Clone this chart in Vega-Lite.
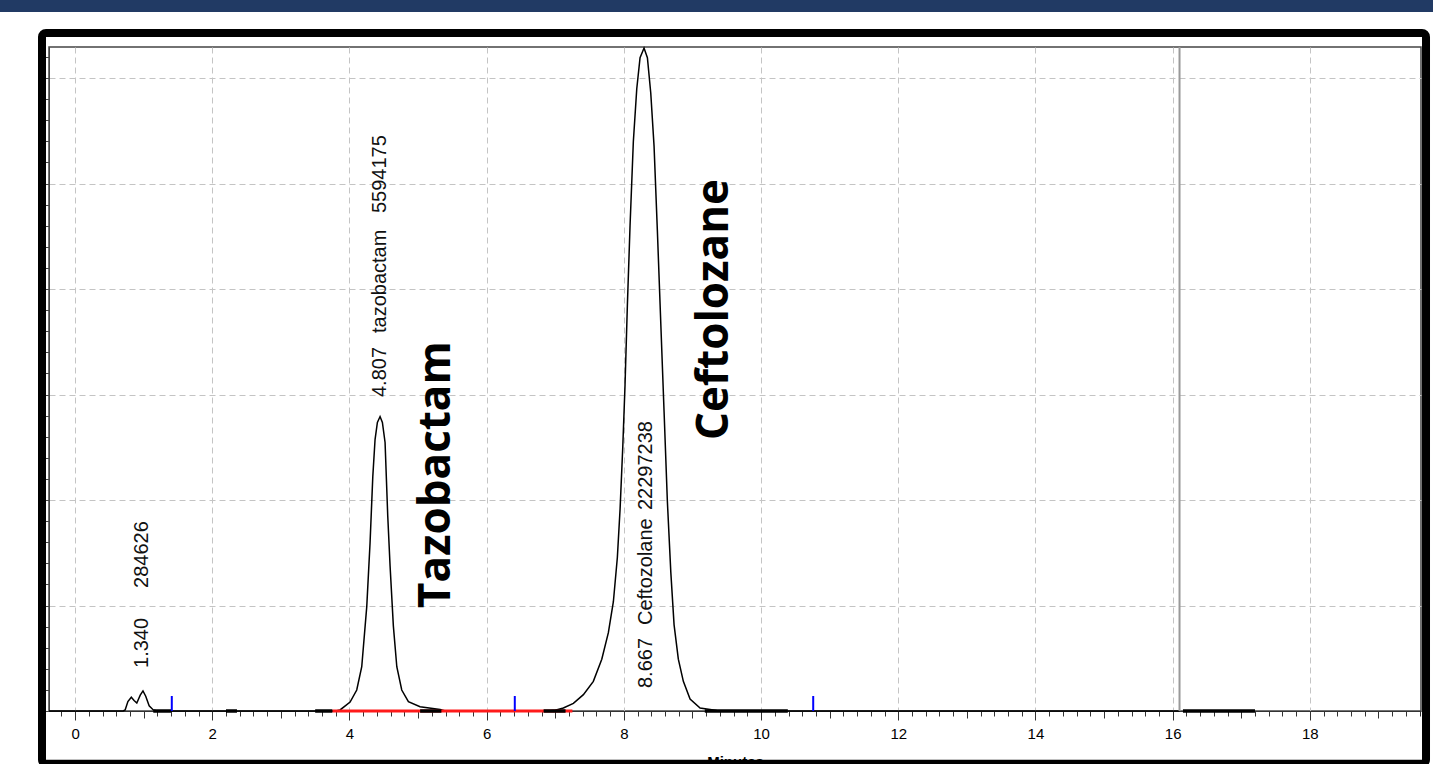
{
  "$schema": "https://vega.github.io/schema/vega-lite/v6.json",
  "width": 1372,
  "height": 664,
  "autosize": {"type": "none"},
  "padding": {"left": 49, "top": 47, "right": 12, "bottom": 53},
  "background": "white",
  "config": {"view": {"stroke": "#444444", "strokeWidth": 1.5}},
  "resolve": {"axis": {"x": "independent", "y": "independent"}},
  "datasets": {
    "signal": [
      {"t": -0.38, "v": 0}, {"t": 0.70, "v": 0}, {"t": 0.73, "v": 0.01}, {"t": 0.77, "v": 0.09},
      {"t": 0.82, "v": 0.13}, {"t": 0.86, "v": 0.10}, {"t": 0.90, "v": 0.076}, {"t": 0.95, "v": 0.15},
      {"t": 0.99, "v": 0.19}, {"t": 1.03, "v": 0.14}, {"t": 1.08, "v": 0.05}, {"t": 1.14, "v": 0.01},
      {"t": 1.20, "v": 0}, {"t": 3.80, "v": 0}, {"t": 3.863, "v": 0.01}, {"t": 4.009, "v": 0.085},
      {"t": 4.106, "v": 0.199}, {"t": 4.179, "v": 0.42}, {"t": 4.252, "v": 0.989}, {"t": 4.300, "v": 1.592},
      {"t": 4.340, "v": 2.221}, {"t": 4.373, "v": 2.573}, {"t": 4.407, "v": 2.735}, {"t": 4.446, "v": 2.791},
      {"t": 4.480, "v": 2.735}, {"t": 4.519, "v": 2.545}, {"t": 4.558, "v": 1.848}, {"t": 4.592, "v": 1.374},
      {"t": 4.640, "v": 0.805}, {"t": 4.690, "v": 0.42}, {"t": 4.762, "v": 0.199}, {"t": 4.859, "v": 0.088},
      {"t": 5.029, "v": 0.04}, {"t": 5.321, "v": 0.014}, {"t": 5.40, "v": 0}, {"t": 6.90, "v": 0},
      {"t": 7.00, "v": 0.008}, {"t": 7.118, "v": 0.028}, {"t": 7.264, "v": 0.072}, {"t": 7.410, "v": 0.155},
      {"t": 7.555, "v": 0.281}, {"t": 7.678, "v": 0.491}, {"t": 7.774, "v": 0.742}, {"t": 7.847, "v": 1.036},
      {"t": 7.905, "v": 1.455}, {"t": 7.945, "v": 1.917}, {"t": 7.984, "v": 2.503}, {"t": 8.017, "v": 3.09},
      {"t": 8.051, "v": 3.844}, {"t": 8.090, "v": 4.599}, {"t": 8.138, "v": 5.396}, {"t": 8.188, "v": 5.898},
      {"t": 8.236, "v": 6.192}, {"t": 8.294, "v": 6.284}, {"t": 8.343, "v": 6.192}, {"t": 8.392, "v": 5.858},
      {"t": 8.440, "v": 5.355}, {"t": 8.488, "v": 4.559}, {"t": 8.538, "v": 3.678}, {"t": 8.586, "v": 2.839},
      {"t": 8.634, "v": 1.99}, {"t": 8.684, "v": 1.319}, {"t": 8.732, "v": 0.817}, {"t": 8.794, "v": 0.491},
      {"t": 8.867, "v": 0.281}, {"t": 8.965, "v": 0.114}, {"t": 9.111, "v": 0.028}, {"t": 9.354, "v": 0.005},
      {"t": 9.50, "v": 0}, {"t": 16.10, "v": 0}
    ],
    "red": [{"t": 3.75}, {"t": 7.25}],
    "segs": [
      {"seg": "a", "t": 1.14}, {"seg": "a", "t": 1.40},
      {"seg": "b", "t": 2.20}, {"seg": "b", "t": 2.36},
      {"seg": "c", "t": 3.50}, {"seg": "c", "t": 3.75},
      {"seg": "d", "t": 5.03}, {"seg": "d", "t": 5.34},
      {"seg": "e", "t": 6.83}, {"seg": "e", "t": 7.15},
      {"seg": "f", "t": 9.18}, {"seg": "f", "t": 10.39},
      {"seg": "g", "t": 16.15}, {"seg": "g", "t": 17.20}
    ],
    "blue": [{"t": 1.41}, {"t": 6.41}, {"t": 10.76}],
    "stop": [{"t": 16.1}],
    "notes": [
      {"t": 1.063, "v": 0.408, "label": "1.340"},
      {"t": 1.063, "v": 1.166, "label": "284626"},
      {"t": 4.532, "v": 2.976, "label": "4.807"},
      {"t": 4.532, "v": 3.583, "label": "tazobactam"},
      {"t": 4.532, "v": 4.72, "label": "5594175"},
      {"t": 8.406, "v": 0.218, "label": "8.667"},
      {"t": 8.406, "v": 0.815, "label": "Ceftozolane"},
      {"t": 8.406, "v": 1.905, "label": "22297238"}
    ],
    "names": [
      {"t": 5.466, "v": 0.976, "label": "Tazobactam"},
      {"t": 9.518, "v": 2.569, "label": "Ceftolozane"}
    ]
  },
  "layer": [
    {
      "data": {"name": "signal"},
      "mark": {"type": "line", "color": "#000000", "strokeWidth": 1.5},
      "encoding": {
        "x": {
          "field": "t", "type": "quantitative",
          "scale": {"domain": [-0.38, 19.62], "nice": false, "zero": false},
          "axis": {
            "values": [-0.2,0,0.2,0.4,0.6,0.8,1,1.2,1.4,1.6,1.8,2,2.2,2.4,2.6,2.8,3,3.2,3.4,3.6,3.8,4,4.2,4.4,4.6,4.8,5,5.2,5.4,5.6,5.8,6,6.2,6.4,6.6,6.8,7,7.2,7.4,7.6,7.8,8,8.2,8.4,8.6,8.8,9,9.2,9.4,9.6,9.8,10,10.2,10.4,10.6,10.8,11,11.2,11.4,11.6,11.8,12,12.2,12.4,12.6,12.8,13,13.2,13.4,13.6,13.8,14,14.2,14.4,14.6,14.8,15,15.2,15.4,15.6,15.8,16,16.2,16.4,16.6,16.8,17,17.2,17.4,17.6,17.8,18,18.2,18.4,18.6,18.8,19,19.2,19.4,19.6],
            "labelExpr": "datum.value % 2 == 0 ? format(datum.value, 'd') : ''",
            "labelOverlap": false,
            "labelFlush": false,
            "labelFont": "Liberation Sans",
            "labelFontSize": 15,
            "labelColor": "#000000",
            "labelPadding": 6,
            "tickSize": {"condition": [{"test": "datum.value % 2 == 0", "value": 9}, {"test": "datum.value % 1 == 0", "value": 7}], "value": 5},
            "tickColor": "#333333",
            "domainColor": "#333333",
            "grid": true,
            "gridOpacity": {"condition": {"test": "datum.value % 2 == 0", "value": 1}, "value": 0},
            "gridDash": [6, 4],
            "gridColor": "#c4c4c4",
            "title": "Minutes",
            "titleFont": "Liberation Sans",
            "titleFontSize": 15,
            "titleFontWeight": "bold",
            "titleColor": "#000000",
            "titlePadding": 13
          }
        },
        "y": {
          "field": "v", "type": "quantitative",
          "scale": {"domain": [0, 6.294], "nice": false, "zero": false},
          "axis": {
            "values": [0,0.2,0.4,0.6,0.8,1,1.2,1.4,1.6,1.8,2,2.2,2.4,2.6,2.8,3,3.2,3.4,3.6,3.8,4,4.2,4.4,4.6,4.8,5,5.2,5.4,5.6,5.8,6,6.2],
            "labels": false,
            "title": null,
            "tickSize": 4,
            "tickColor": "#444444",
            "domainColor": "#444444",
            "grid": true,
            "gridOpacity": {"condition": {"test": "datum.value % 1 == 0", "value": 1}, "value": 0},
            "gridDash": [6, 4],
            "gridColor": "#c4c4c4"
          }
        }
      }
    },
    {
      "data": {"name": "red"},
      "mark": {"type": "line", "color": "#ff1a1a", "strokeWidth": 3},
      "encoding": {
        "x": {"field": "t", "type": "quantitative", "axis": null},
        "y": {"datum": 0, "type": "quantitative", "axis": null}
      }
    },
    {
      "data": {"name": "segs"},
      "mark": {"type": "line", "color": "#000000", "strokeWidth": 3.5},
      "encoding": {
        "x": {"field": "t", "type": "quantitative", "axis": null},
        "y": {"datum": 0, "type": "quantitative", "axis": null},
        "detail": {"field": "seg", "type": "nominal"}
      }
    },
    {
      "data": {"name": "blue"},
      "mark": {"type": "rule", "color": "#0000ff", "strokeWidth": 2},
      "encoding": {
        "x": {"field": "t", "type": "quantitative", "axis": null},
        "y": {"datum": 0, "type": "quantitative", "axis": null},
        "y2": {"datum": 0.142}
      }
    },
    {
      "data": {"name": "stop"},
      "mark": {"type": "rule", "color": "#999999", "strokeWidth": 2},
      "encoding": {
        "x": {"field": "t", "type": "quantitative", "axis": null},
        "y": {"datum": 0, "type": "quantitative", "axis": null},
        "y2": {"datum": 6.294}
      }
    },
    {
      "data": {"name": "notes"},
      "mark": {"type": "text", "angle": 270, "align": "left", "baseline": "alphabetic", "font": "Liberation Sans", "fontSize": 20, "color": "#111111"},
      "encoding": {
        "x": {"field": "t", "type": "quantitative", "axis": null},
        "y": {"field": "v", "type": "quantitative", "axis": null},
        "text": {"field": "label", "type": "nominal"}
      }
    },
    {
      "data": {"name": "names"},
      "mark": {"type": "text", "angle": 270, "align": "left", "baseline": "alphabetic", "font": "Open Sans", "fontWeight": "bold", "fontSize": 44, "color": "#000000"},
      "encoding": {
        "x": {"field": "t", "type": "quantitative", "axis": null},
        "y": {"field": "v", "type": "quantitative", "axis": null},
        "text": {"field": "label", "type": "nominal"}
      }
    },
    {
      "data": {"values": [{}]},
      "mark": {"type": "rect", "color": "#213a64"},
      "encoding": {
        "x": {"datum": -1.2, "type": "quantitative", "axis": null},
        "x2": {"datum": 20.2},
        "y": {"datum": 6.76, "type": "quantitative", "axis": null},
        "y2": {"datum": 6.626}
      }
    },
    {
      "data": {"values": [{}]},
      "mark": {"type": "rect", "filled": false, "color": "#000000", "strokeWidth": 8, "cornerRadius": 4},
      "encoding": {
        "x": {"datum": -0.482, "type": "quantitative", "axis": null},
        "x2": {"datum": 19.693},
        "y": {"datum": 6.427, "type": "quantitative", "axis": null},
        "y2": {"datum": -0.5}
      }
    }
  ]
}
